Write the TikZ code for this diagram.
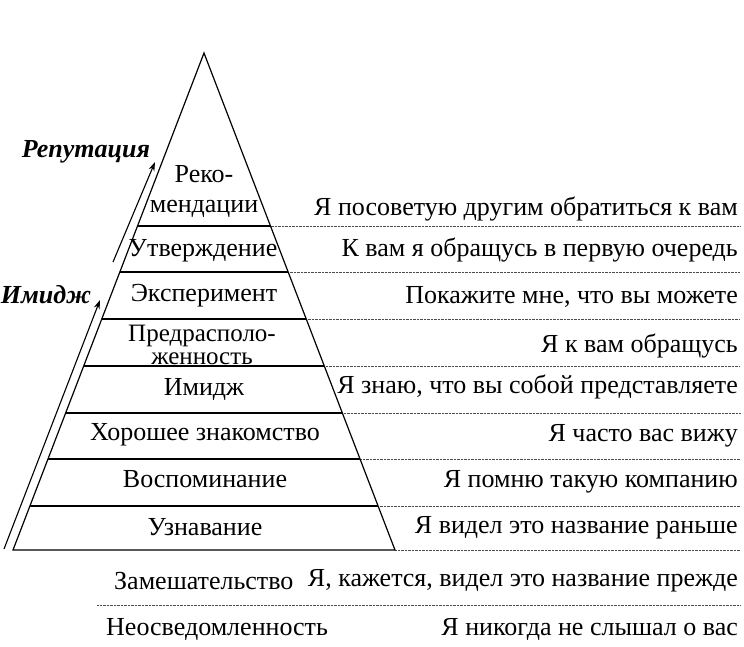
\documentclass[tikz,border=0pt]{standalone}
\usepackage{fontspec}
\setmainfont{Liberation Serif}
\usetikzlibrary{arrows.meta}
\begin{document}
\begin{tikzpicture}[x=1pt,y=-1pt,
  txt/.style={inner sep=0pt,font=\fontsize{26}{28}\selectfont},
  rtxt/.style={txt,anchor=east},
  lbl/.style={inner sep=0pt,font=\fontsize{26}{28}\selectfont\bfseries\itshape},
  solidline/.style={line width=1.2pt,line join=miter},
  dotline/.style={line width=0.7pt,black!70,dash pattern=on 0.7pt off 0.7pt},
  arr/.style={line width=1.1pt,-{Stealth[length=9pt,width=6pt]}}]
\useasboundingbox (0,0) rectangle (744,646);
% pyramid corners
\coordinate (apex) at (204,53);
\coordinate (bl) at (13,550);
\coordinate (br) at (395,550);
% level points
\coordinate (l1) at (137.5,226); \coordinate (r1) at (270.5,226);
\coordinate (l2) at (119.8,272); \coordinate (r2) at (288.2,272);
\coordinate (l3) at (101.8,319); \coordinate (r3) at (306.2,319);
\coordinate (l4) at (83.7,366);  \coordinate (r4) at (324.3,366);
\coordinate (l5) at (65.7,413);  \coordinate (r5) at (342.3,413);
\coordinate (l6) at (48.0,459);  \coordinate (r6) at (360.0,459);
\coordinate (l7) at (29.9,506);  \coordinate (r7) at (378.1,506);
% right ends of dotted lines
\coordinate (e1) at (740,226);
\coordinate (e2) at (740,272);
\coordinate (e3) at (740,319);
\coordinate (e4) at (740,366);
\coordinate (e5) at (740,413);
\coordinate (e6) at (740,459);
\coordinate (e7) at (740,506);
\coordinate (e8) at (740,550);
\coordinate (s9) at (97,605);
\coordinate (e9) at (740,605);
% dotted lines
\foreach \i in {1,...,7} \draw[dotline] (r\i) -- (e\i);
\draw[dotline] (br) -- (e8);
\draw[dotline] (s9) -- (e9);
% pyramid
\draw[solidline] (apex) -- (bl) -- (br) -- cycle;
\foreach \i in {1,...,7} \draw[solidline] (l\i) -- (r\i);
% pyramid texts
\node[txt,align=center,font=\fontsize{26}{30}\selectfont] (p1) at (204,191) {Реко-\\мендации};
\node[txt] (p2) at (203,251) {Утверждение};
\node[txt] (p3) at (204,296) {Эксперимент};
\node[txt,align=center,font=\fontsize{25}{23.5}\selectfont] (p4) at (202,345) {Предрасполо-\\женность};
\node[txt] (p5) at (204,389) {Имидж};
\node[txt] (p6) at (205,435) {Хорошее знакомство};
\node[txt] (p7) at (205,479) {Воспоминание};
\node[txt] (p8) at (205,527) {Узнавание};
% right texts
\node[rtxt] (t1) at (738,209) {Я посоветую другим обратиться к вам};
\node[rtxt] (t2) at (738,250) {К вам я обращусь в первую очередь};
\node[rtxt] (t3) at (738,297) {Покажите мне, что вы можете};
\node[rtxt] (t4) at (738,346) {Я к вам обращусь};
\node[rtxt] (t5) at (738,387) {Я знаю, что вы собой представляете};
\node[rtxt] (t6) at (738,436) {Я часто вас вижу};
\node[rtxt] (t7) at (738,482) {Я помню такую компанию};
\node[rtxt] (t8) at (738,528) {Я видел это название раньше};
\node[rtxt] (t9) at (738,581) {Я, кажется, видел это название прежде};
\node[rtxt] (t10) at (738,629) {Я никогда не слышал о вас};
\node[txt,anchor=west] (b1) at (114,581) {Замешательство};
\node[txt,anchor=west] (b2) at (106,629) {Неосведомленность};
% side labels and arrows
\node[lbl] (rep) at (86,152) {Репутация};
\node[lbl] (img) at (46,295) {Имидж};
\coordinate (a1s) at (113,262);
\coordinate (a1e) at (155,162);
\coordinate (a2s) at (4,549);
\coordinate (a2e) at (100,300);
\draw[arr] (a1s) -- (a1e);
\draw[arr] (a2s) -- (a2e);
\end{tikzpicture}
\end{document}
